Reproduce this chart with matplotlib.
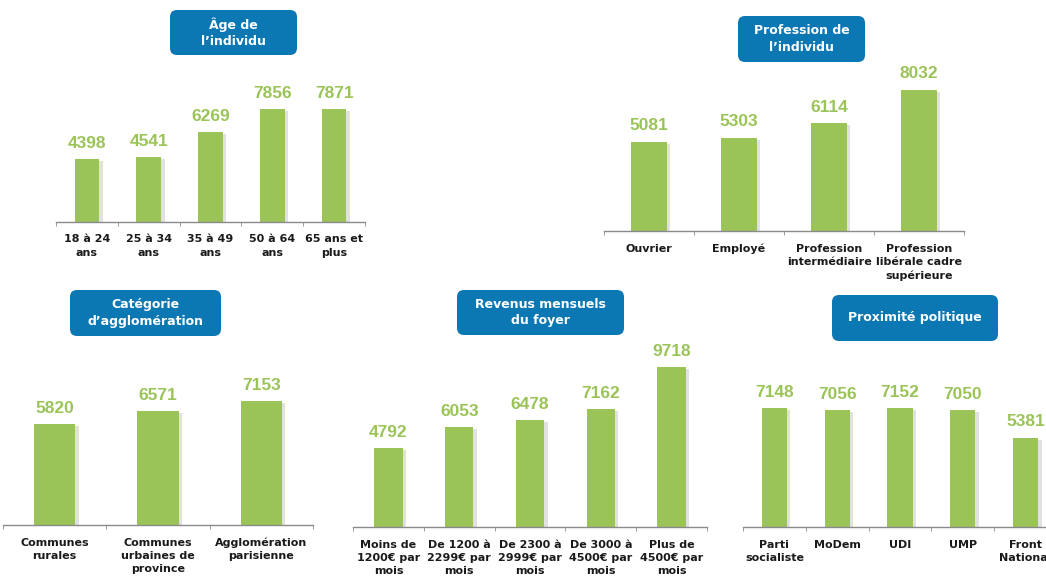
import matplotlib
matplotlib.use("Agg")
import matplotlib.pyplot as plt
import matplotlib.patheffects as pe
from matplotlib.patches import FancyBboxPatch
from matplotlib.transforms import IdentityTransform
import numpy as np

W, H = 1046, 576
GREEN = "#9BC458"
BLUE = "#0B77B3"
TEXT = "#1a1a1a"

age_labels = ["18 à 24\nans", "25 à 34\nans", "35 à 49\nans", "50 à 64\nans", "65 ans et\nplus"]
age_values = [4398, 4541, 6269, 7856, 7871]

prof_labels = ["Ouvrier", "Employé", "Profession\nintermédiaire", "Profession\nlibérale cadre\nsupérieure"]
prof_values = [5081, 5303, 6114, 8032]

agglo_labels = ["Communes\nrurales", "Communes\nurbaines de\nprovince", "Agglomération\nparisienne"]
agglo_values = [5820, 6571, 7153]

revenu_labels = ["Moins de\n1200€ par\nmois", "De 1200 à\n2299€ par\nmois", "De 2300 à\n2999€ par\nmois",
                 "De 3000 à\n4500€ par\nmois", "Plus de\n4500€ par\nmois"]
revenu_values = [4792, 6053, 6478, 7162, 9718]

poli_labels = ["Parti\nsocialiste", "MoDem", "UDI", "UMP", "Front\nNational"]
poli_values = [7148, 7056, 7152, 7050, 5381]

fig = plt.figure(figsize=(W / 100, H / 100), dpi=100)
fig.patch.set_facecolor("white")


def panel(labels, values, x0, x1, y_axis, px_per_unit, height=175):
    # axes placed in pixel units, bottom edge = category axis line
    ax = fig.add_axes([x0 / W, (H - y_axis) / H, (x1 - x0) / W, height / H])
    n = len(values)
    x = np.arange(n)
    bars = ax.bar(x, values, width=0.4, color=GREEN, zorder=2)
    for b in bars:
        b.set_path_effects([pe.SimplePatchShadow(offset=(2.5, -1.5), shadow_rgbFace="#888888", alpha=0.25),
                            pe.Normal()])
    for xi, v in zip(x, values):
        ax.annotate(str(v), (xi, v), xytext=(0, 6), textcoords="offset points",
                    ha="center", va="bottom", color=GREEN, fontsize=12.5,
                    fontweight="bold", family="Liberation Sans")
    ax.set_xlim(-0.5, n - 0.5)
    ax.set_ylim(0, height / px_per_unit)
    for s in ["top", "right", "left"]:
        ax.spines[s].set_visible(False)
    ax.spines["bottom"].set_color("#8a8a8a")
    ax.spines["bottom"].set_linewidth(1)
    ax.set_yticks([])
    ax.set_xticks(x)
    ax.set_xticklabels(labels, fontsize=8, fontweight="bold", color=TEXT, linespacing=1.4)
    ax.tick_params(axis="x", which="major", length=0, pad=9)
    ax.set_xticks(np.arange(n + 1) - 0.5, minor=True)
    ax.tick_params(axis="x", which="minor", length=3, color="#8a8a8a", direction="out")
    ax.patch.set_alpha(0)
    return ax


def title_box(text, x0, y0, x1, y1):
    box = FancyBboxPatch((x0, H - y1), x1 - x0, y1 - y0,
                         boxstyle="round,pad=0,rounding_size=7",
                         transform=IdentityTransform(), facecolor=BLUE, edgecolor="none", zorder=5)
    fig.add_artist(box)
    fig.text((x0 + x1) / 2 / W, 1 - (y0 + y1) / 2 / H, text, ha="center", va="center",
             color="white", fontsize=9, fontweight="bold", linespacing=1.35, zorder=6)


panel(age_labels, age_values, 56, 365, 222, 0.01435, height=165)
panel(prof_labels, prof_values, 604, 964, 231, 0.0176, height=170)
panel(agglo_labels, agglo_values, 3, 313, 525, 0.01734)
panel(revenu_labels, revenu_values, 353, 707, 527, 0.01647)
panel(poli_labels, poli_values, 743, 1057, 527, 0.0166)

title_box("Âge de\nl’individu", 170, 10, 297, 55)
title_box("Profession de\nl’individu", 738, 16, 865, 62)
title_box("Catégorie\nd’agglomération", 70, 290, 221, 336)
title_box("Revenus mensuels\ndu foyer", 457, 290, 624, 335)
title_box("Proximité politique", 832, 295, 998, 341)

fig.savefig("out.png", dpi=100, facecolor="white")
